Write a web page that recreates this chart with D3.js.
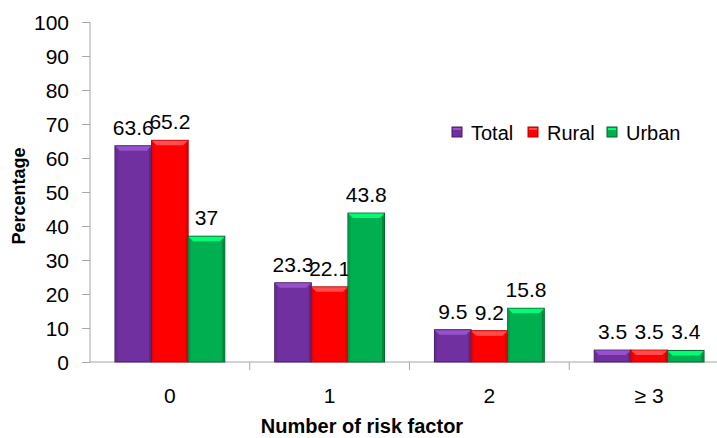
<!DOCTYPE html>
<html>
<head>
<meta charset="utf-8">
<script src="https://cdn.jsdelivr.net/npm/d3@7"></script>
<style>
  html, body { margin: 0; padding: 0; background: #fff; }
  svg { display: block; overflow: hidden; font-family: Arial, "Liberation Sans", sans-serif; }
</style>
</head>
<body>
<svg id="chart" width="717" height="438"></svg>
<script>
// Share of respondents by number of risk factors
const categories = ["0", "1", "2", "\u2265 3"];
const seriesNames = ["Total", "Rural", "Urban"];
const totalValues = [63.6, 23.3, 9.5, 3.5];
const ruralValues = [65.2, 22.1, 9.2, 3.5];
const urbanValues = [37, 43.8, 15.8, 3.4];
const yTicks = [0, 10, 20, 30, 40, 50, 60, 70, 80, 90, 100];

const colors = { Total: "#7030A0", Rural: "#FF0000", Urban: "#00B050" };
const valuesBySeries = { Total: totalValues, Rural: ruralValues, Urban: urbanValues };

const svg = d3.select("#chart");
const plot = { left: 90, right: 729, top: 22, bottom: 362 };

const x = d3.scaleBand().domain(categories).range([plot.left, plot.right]).paddingInner(0).paddingOuter(0);
const groupWidth = x.bandwidth() * 0.6875;
const xs = d3.scaleBand().domain(seriesNames).range([0, groupWidth]).padding(0);
const y = d3.scaleLinear().domain([0, 100]).range([plot.bottom, plot.top]);

function shade(c, k) { const h = d3.hsl(c); h.l = Math.max(0, Math.min(1, h.l + k)); return h.formatHex(); }

// y axis
const yAxis = svg.append("g").attr("transform", `translate(${plot.left},0)`)
  .call(d3.axisLeft(y).tickValues(yTicks).tickSize(8).tickPadding(13));
yAxis.select(".domain").attr("stroke", "#a6a6a6").attr("d", `M0,${plot.top}V${plot.bottom}`);
yAxis.selectAll(".tick line").attr("stroke", "#a6a6a6");
yAxis.selectAll(".tick text").attr("font-size", 21).attr("fill", "#000")
  .attr("font-family", "Arial, 'Liberation Sans', sans-serif").attr("dy", "0.36em");

// x axis with ticks at band boundaries
const xAxisG = svg.append("g").attr("transform", `translate(0,${plot.bottom})`);
xAxisG.append("line").attr("x1", plot.left).attr("x2", plot.right).attr("y1", 0).attr("y2", 0).attr("stroke", "#a6a6a6");
xAxisG.selectAll("line.tk").data(categories.slice(1)).join("line").attr("class", "tk")
  .attr("x1", d => x(d)).attr("x2", d => x(d)).attr("y1", 0).attr("y2", 8).attr("stroke", "#a6a6a6");
xAxisG.selectAll("text.cat").data(categories).join("text").attr("class", "cat")
  .attr("x", d => x(d) + x.bandwidth() / 2).attr("y", 41)
  .attr("text-anchor", "middle").attr("font-size", 21).attr("fill", "#000").text(d => d);

// bars
const flat = [];
categories.forEach((c, i) => seriesNames.forEach(s => flat.push({ cat: c, series: s, value: valuesBySeries[s][i] })));

const barG = svg.append("g");
const bar = barG.selectAll("g.bar").data(flat).join("g").attr("class", "bar")
  .attr("transform", d => `translate(${x(d.cat) + (x.bandwidth() - groupWidth) / 2 + xs(d.series)},0)`);

const bw = xs.bandwidth();
bar.append("rect")
  .attr("x", 0).attr("y", d => y(d.value)).attr("width", bw).attr("height", d => y(0) - y(d.value))
  .attr("fill", d => colors[d.series]).attr("stroke", d => shade(colors[d.series], -0.15)).attr("stroke-width", 1);
// top bevel
bar.append("path")
  .attr("d", d => {
    const t = y(d.value), b = Math.min(5, (y(0) - t) / 2);
    return `M0.5,${t + 0.5}H${bw - 0.5}L${bw - 5},${t + b}H5Z`;
  })
  .attr("fill", d => shade(colors[d.series], 0.15));
// side bevels
bar.append("rect").attr("x", 0.5).attr("y", d => y(d.value) + 3).attr("width", 2)
  .attr("height", d => Math.max(0, y(0) - y(d.value) - 3.5)).attr("fill", d => shade(colors[d.series], -0.04));
bar.append("rect").attr("x", bw - 2.5).attr("y", d => y(d.value) + 3).attr("width", 2)
  .attr("height", d => Math.max(0, y(0) - y(d.value) - 3.5)).attr("fill", d => shade(colors[d.series], -0.08));

// value labels
bar.append("text")
  .attr("x", bw / 2).attr("y", d => y(d.value) - 11)
  .attr("text-anchor", "middle").attr("font-size", 21).attr("fill", "#000")
  .text(d => d.value);

// legend
const legendX = { Total: 452, Rural: 528, Urban: 607 };
const legend = svg.append("g").selectAll("g").data(seriesNames).join("g")
  .attr("transform", d => `translate(${legendX[d]},127)`);
legend.append("rect").attr("width", 10).attr("height", 10)
  .attr("fill", d => colors[d]).attr("stroke", d => shade(colors[d], -0.15));
legend.append("rect").attr("x", 1).attr("y", 1).attr("width", 8).attr("height", 2)
  .attr("fill", d => shade(colors[d], 0.15));
legend.append("text").attr("x", 19).attr("y", 13).attr("font-size", 20).attr("fill", "#000").text(d => d);

// axis titles
svg.append("text").attr("transform", "translate(25,196) rotate(-90)")
  .attr("text-anchor", "middle").attr("font-size", 18).attr("font-weight", "bold").attr("fill", "#000")
  .text("Percentage");
svg.append("text").attr("x", 362).attr("y", 433)
  .attr("text-anchor", "middle").attr("font-size", 20).attr("font-weight", "bold").attr("fill", "#000")
  .text("Number of risk factor");
</script>
</body>
</html>
